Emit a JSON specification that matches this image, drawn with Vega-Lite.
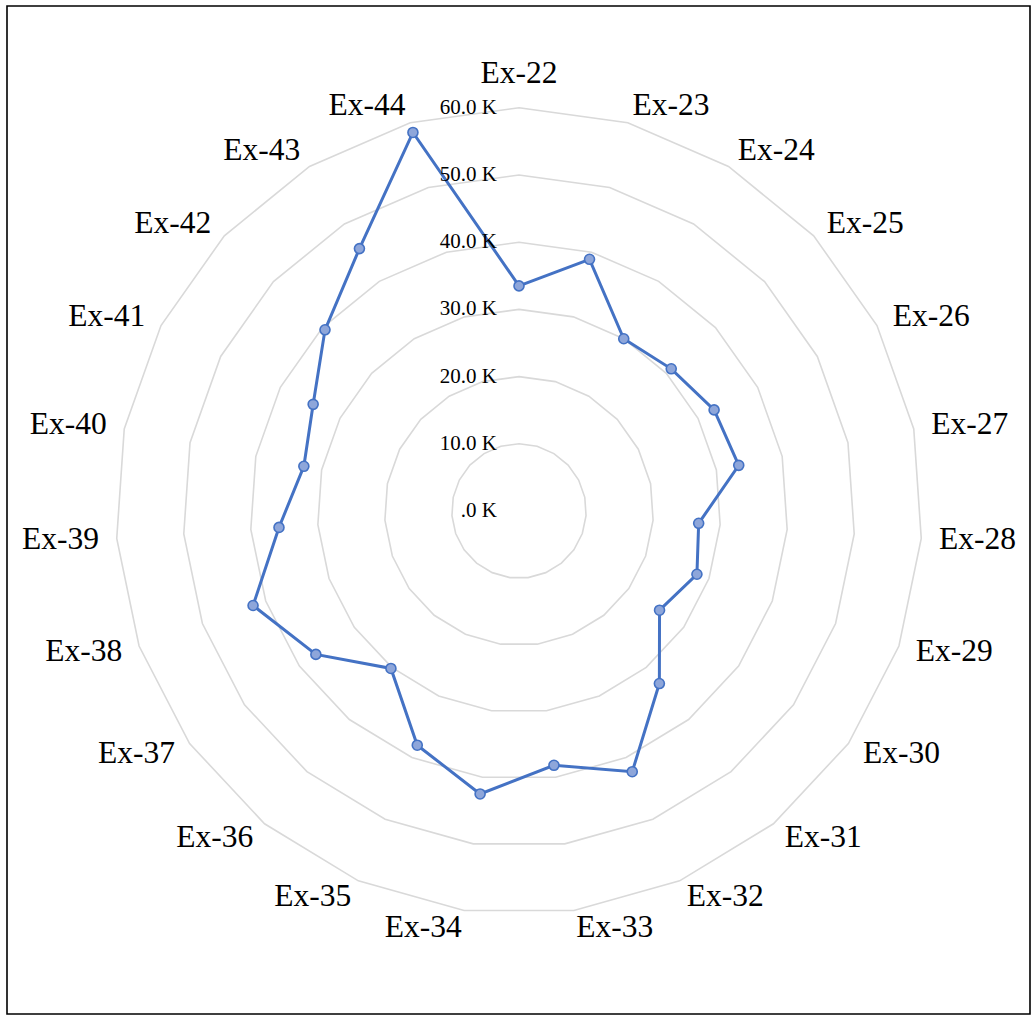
{
  "$schema": "https://vega.github.io/schema/vega-lite/v6.json",
  "width": 1023,
  "height": 1008,
  "padding": {"left": 7, "top": 6, "right": 3, "bottom": 3},
  "autosize": {"type": "none"},
  "background": "white",
  "config": {
    "view": {"stroke": "#000000", "strokeWidth": 1.6},
    "text": {"font": "Liberation Serif", "color": "#000000"}
  },
  "datasets": {
    "radar": [
      {"cat": "Ex-22", "value": 33500},
      {"cat": "Ex-23", "value": 38900},
      {"cat": "Ex-24", "value": 30000},
      {"cat": "Ex-25", "value": 31000},
      {"cat": "Ex-26", "value": 32700},
      {"cat": "Ex-27", "value": 33400},
      {"cat": "Ex-28", "value": 26800},
      {"cat": "Ex-29", "value": 28100},
      {"cat": "Ex-30", "value": 25600},
      {"cat": "Ex-31", "value": 33100},
      {"cat": "Ex-32", "value": 42300},
      {"cat": "Ex-33", "value": 38200},
      {"cat": "Ex-34", "value": 42500},
      {"cat": "Ex-35", "value": 38000},
      {"cat": "Ex-36", "value": 30200},
      {"cat": "Ex-37", "value": 37000},
      {"cat": "Ex-38", "value": 42000},
      {"cat": "Ex-39", "value": 35800},
      {"cat": "Ex-40", "value": 32700},
      {"cat": "Ex-41", "value": 34500},
      {"cat": "Ex-42", "value": 39500},
      {"cat": "Ex-43", "value": 45700},
      {"cat": "Ex-44", "value": 58500}
    ],
    "rings": [
      {"level": 0, "label": ".0 K"},
      {"level": 10000, "label": "10.0 K"},
      {"level": 20000, "label": "20.0 K"},
      {"level": 30000, "label": "30.0 K"},
      {"level": 40000, "label": "40.0 K"},
      {"level": 50000, "label": "50.0 K"},
      {"level": 60000, "label": "60.0 K"}
    ]
  },
  "layer": [
    {
      "data": {"name": "radar"},
      "transform": [
        {"window": [{"op": "row_number", "as": "idx"}]},
        {"calculate": "2 * PI * (datum.idx - 1) / 23", "as": "a"},
        {"calculate": "datum.value * sin(datum.a)", "as": "px"},
        {"calculate": "datum.value * cos(datum.a)", "as": "py"},
        {"calculate": "62650 * sin(datum.a)", "as": "lx"},
        {"calculate": "62650 * cos(datum.a)", "as": "ly"}
      ],
      "layer": [
        {
          "transform": [
            {"calculate": "[10000, 20000, 30000, 40000, 50000, 60000]", "as": "level"},
            {"flatten": ["level"]},
            {"calculate": "datum.level * sin(datum.a)", "as": "gx"},
            {"calculate": "datum.level * cos(datum.a)", "as": "gy"}
          ],
          "mark": {"type": "line", "interpolate": "linear-closed", "stroke": "#D9D9D9", "strokeWidth": 1.6},
          "encoding": {
            "x": {"field": "gx", "type": "quantitative", "scale": {"domain": [-76190, 76042], "nice": false, "zero": false}, "axis": null},
            "y": {"field": "gy", "type": "quantitative", "scale": {"domain": [-74851, 75149], "nice": false, "zero": false}, "axis": null},
            "detail": {"field": "level", "type": "nominal"},
            "order": {"field": "idx", "type": "quantitative"}
          }
        },
        {
          "mark": {"type": "line", "interpolate": "linear-closed", "stroke": "#4472C4", "strokeWidth": 3},
          "encoding": {
            "x": {"field": "px", "type": "quantitative", "scale": {"domain": [-76190, 76042], "nice": false, "zero": false}, "axis": null},
            "y": {"field": "py", "type": "quantitative", "scale": {"domain": [-74851, 75149], "nice": false, "zero": false}, "axis": null},
            "order": {"field": "idx", "type": "quantitative"}
          }
        },
        {
          "mark": {"type": "point", "filled": true, "fill": "#8EA6DA", "stroke": "#4472C4", "strokeWidth": 1.6, "size": 100, "opacity": 1},
          "encoding": {
            "x": {"field": "px", "type": "quantitative", "scale": {"domain": [-76190, 76042], "nice": false, "zero": false}, "axis": null},
            "y": {"field": "py", "type": "quantitative", "scale": {"domain": [-74851, 75149], "nice": false, "zero": false}, "axis": null}
          }
        },
        {
          "transform": [{"filter": "datum.idx == 1"}],
          "mark": {"type": "text", "fontSize": 31.5, "align": "center", "baseline": "bottom"},
          "encoding": {
            "x": {"field": "lx", "type": "quantitative", "scale": {"domain": [-76190, 76042], "nice": false, "zero": false}, "axis": null},
            "y": {"field": "ly", "type": "quantitative", "scale": {"domain": [-74851, 75149], "nice": false, "zero": false}, "axis": null},
            "text": {"field": "cat"}
          }
        },
        {
          "transform": [{"filter": "datum.idx >= 2 && datum.idx <= 12"}],
          "mark": {"type": "text", "fontSize": 31.5, "align": "left", "baseline": "middle"},
          "encoding": {
            "x": {"field": "lx", "type": "quantitative", "scale": {"domain": [-76190, 76042], "nice": false, "zero": false}, "axis": null},
            "y": {"field": "ly", "type": "quantitative", "scale": {"domain": [-74851, 75149], "nice": false, "zero": false}, "axis": null},
            "text": {"field": "cat"}
          }
        },
        {
          "transform": [{"filter": "datum.idx >= 13"}],
          "mark": {"type": "text", "fontSize": 31.5, "align": "right", "baseline": "middle"},
          "encoding": {
            "x": {"field": "lx", "type": "quantitative", "scale": {"domain": [-76190, 76042], "nice": false, "zero": false}, "axis": null},
            "y": {"field": "ly", "type": "quantitative", "scale": {"domain": [-74851, 75149], "nice": false, "zero": false}, "axis": null},
            "text": {"field": "cat"}
          }
        }
      ]
    },
    {
      "data": {"name": "rings"},
      "mark": {"type": "text", "fontSize": 21, "align": "right", "baseline": "middle", "dx": -22},
      "encoding": {
        "x": {"datum": 0, "type": "quantitative", "scale": {"domain": [-76190, 76042], "nice": false, "zero": false}, "axis": null},
        "y": {"field": "level", "type": "quantitative", "scale": {"domain": [-74851, 75149], "nice": false, "zero": false}, "axis": null},
        "text": {"field": "label"}
      }
    }
  ]
}
